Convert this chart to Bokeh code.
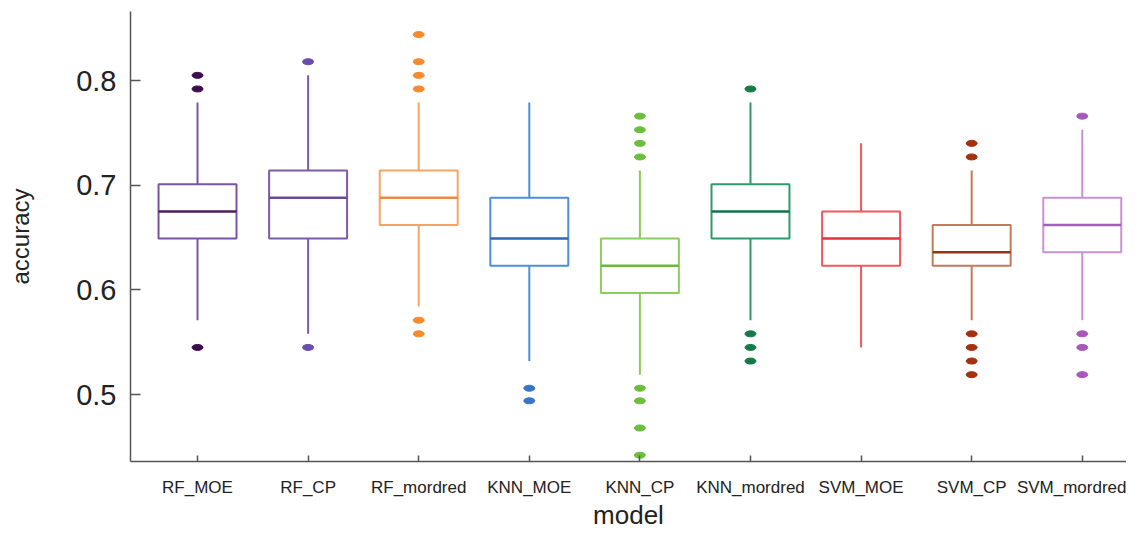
from bokeh.plotting import figure
from bokeh.models import FixedTicker, Range1d, ColumnDataSource
from bokeh.embed import file_html
from bokeh.resources import INLINE

categories = ["RF_MOE", "RF_CP", "RF_mordred", "KNN_MOE", "KNN_CP",
              "KNN_mordred", "SVM_MOE", "SVM_CP", "SVM_mordred"]
q1 = [0.649, 0.649, 0.662, 0.623, 0.597, 0.649, 0.623, 0.623, 0.636]
median = [0.675, 0.688, 0.688, 0.649, 0.623, 0.675, 0.649, 0.636, 0.662]
q3 = [0.701, 0.714, 0.714, 0.688, 0.649, 0.701, 0.675, 0.662, 0.688]
lower = [0.571, 0.558, 0.584, 0.532, 0.519, 0.571, 0.545, 0.571, 0.571]
upper = [0.779, 0.805, 0.779, 0.779, 0.714, 0.779, 0.740, 0.714, 0.753]
outliers = [
    [0.805, 0.792, 0.545],
    [0.818, 0.545],
    [0.844, 0.818, 0.805, 0.792, 0.571, 0.558],
    [0.506, 0.494],
    [0.766, 0.753, 0.740, 0.727, 0.506, 0.494, 0.468, 0.442],
    [0.792, 0.558, 0.545, 0.532],
    [],
    [0.740, 0.727, 0.558, 0.545, 0.532, 0.519],
    [0.766, 0.558, 0.545, 0.519],
]
tick_labels = categories

box_colors = ["#7b52a3", "#7d5aa8", "#f9a45e", "#4c8fd6", "#8ccc5c",
              "#2e9a6e", "#f2575f", "#c47a5c", "#c892d2"]
median_colors = ["#4a1e5e", "#6b48a0", "#f2893a", "#2e66b8", "#6bb83e",
                 "#17704a", "#e8303c", "#9a3414", "#a060b4"]
outlier_colors = ["#3e0c4c", "#6a4db0", "#f68a2e", "#3a74c4", "#6cbf3c",
                  "#137a4a", "#e8303c", "#a3300f", "#a858b8"]

xs = list(range(len(categories)))
box_w = 0.705

p = figure(width=1126, height=532, output_backend="svg", toolbar_location=None,
           x_range=Range1d(-0.606, 8.40), y_range=Range1d(0.436, 0.866),
           min_border_left=130, min_border_right=0, min_border_top=11,
           min_border_bottom=60)
p.outline_line_color = None
p.grid.visible = False
p.background_fill_color = "white"

src = ColumnDataSource(dict(x=xs, q1=q1, med=median, q3=q3, lo=lower, hi=upper,
                            bc=box_colors, mc=median_colors,
                            left=[x - box_w / 2 for x in xs],
                            right=[x + box_w / 2 for x in xs]))

p.segment(x0="x", y0="q3", x1="x", y1="hi", line_color="bc", line_width=2, source=src)
p.segment(x0="x", y0="q1", x1="x", y1="lo", line_color="bc", line_width=2, source=src)
p.quad(left="left", right="right", bottom="q1", top="q3", fill_color="white",
       line_color="bc", line_width=2, source=src)
p.segment(x0="left", y0="med", x1="right", y1="med", line_color="mc",
          line_width=2.5, source=src)

ox, oy, oc = [], [], []
for i, vals in enumerate(outliers):
    for v in vals:
        ox.append(xs[i])
        oy.append(v)
        oc.append(outlier_colors[i])
p.ellipse(x=ox, y=oy, width=11, height=6, width_units="screen",
          height_units="screen", fill_color=oc, line_color=oc)

p.xaxis.ticker = FixedTicker(ticks=xs)
p.xaxis.major_label_overrides = {i: c for i, c in enumerate(tick_labels)}
p.yaxis.ticker = FixedTicker(ticks=[0.5, 0.6, 0.7, 0.8])

for ax in (p.xaxis, p.yaxis):
    ax.axis_line_color = "#555555"
    ax.axis_line_width = 1.5
    ax.major_tick_line_color = "#555555"
    ax.major_tick_line_width = 1.5
    ax.minor_tick_line_color = None
    ax.major_tick_out = 0
    ax.major_label_text_font = "Liberation Sans"
    ax.axis_label_text_font = "Liberation Sans"
    ax.axis_label_text_font_style = "normal"
    ax.major_label_text_color = "#222222"
    ax.axis_label_text_color = "#222222"

p.xaxis.major_tick_in = 6
p.yaxis.major_tick_in = 10
p.xaxis.major_label_text_font_size = "17px"
p.yaxis.major_label_text_font_size = "29px"
p.xaxis.major_label_standoff = 16
p.yaxis.major_label_standoff = 14
p.xaxis.axis_label = "model"
p.yaxis.axis_label = "accuracy"
p.xaxis.axis_label_text_font_size = "26px"
p.yaxis.axis_label_text_font_size = "24px"
p.xaxis.axis_label_standoff = 0
p.yaxis.axis_label_standoff = 39

open("out.html", "w").write(file_html(p, INLINE))
